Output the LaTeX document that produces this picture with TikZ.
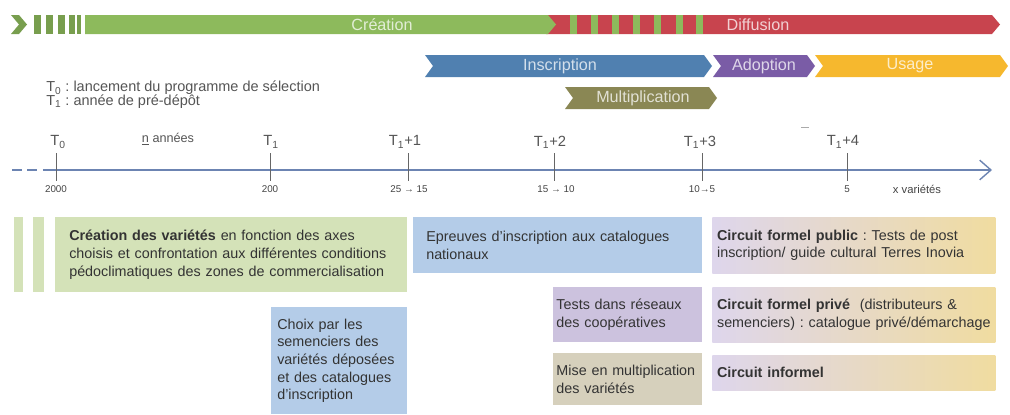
\documentclass[tikz,border=0pt]{standalone}
\usepackage{fontspec}
\setmainfont{Liberation Sans}
\usepackage{tikz}
\usepackage{xcolor}
\usetikzlibrary{
    arrows.meta,
    calc,
    positioning
}
\definecolor{creaGreen}{RGB}{141,186,92}
\definecolor{diffRed}{RGB}{200,68,78}
\definecolor{inscBlue}{RGB}{80,128,176}
\definecolor{adopPurple}{RGB}{122,92,166}
\definecolor{usageYellow}{RGB}{246,184,46}
\definecolor{multOlive}{RGB}{138,135,84}
\definecolor{axisBlue}{RGB}{108,132,178}
\definecolor{legGrey}{RGB}{85,85,85}
\definecolor{boxGreen}{RGB}{212,226,184}
\definecolor{boxBlue}{RGB}{180,204,232}
\definecolor{boxLav}{RGB}{204,194,222}
\definecolor{boxKhaki}{RGB}{214,208,188}
\definecolor{gradLav}{RGB}{222,214,236}
\definecolor{gradYel}{RGB}{240,220,160}
\newcommand{\bxfont}{\fontsize{10.2}{12.6}\selectfont}
% chevron banner: x left, x right, y top, y bottom, colour
\newcommand{\chevbar}[5]{%
  \fill[#5] (#1,#3) -- (#2-8,#3) -- (#2,{(#3+#4)/2}) -- (#2-8,#4) -- (#1,#4) -- (#1+8,{(#3+#4)/2}) -- cycle;}

\begin{document}
\frenchspacing
\begin{tikzpicture}[x=0.025cm,y=-0.025cm,
    bantext/.style={text=white,text opacity=.75,font=\fontsize{11.5}{12}\selectfont},
    leg/.style={text=legGrey,font=\fontsize{10.3}{11}\selectfont,inner sep=0pt},
    tlab/.style={text=legGrey,font=\fontsize{10.5}{12}\selectfont,inner sep=0pt},
    num/.style={text=legGrey!80!black,font=\fontsize{7}{8}\selectfont,inner sep=0pt},
    tickline/.style={legGrey!90,line width=.6pt},
    axisline/.style={axisBlue,line width=1pt},
    box/.style={anchor=north west,align=left,inner ysep=0pt,text=black!80,font=\bxfont}]
\useasboundingbox (0,0) rectangle (1010,414);

% top banners
\chevbar{546}{1000}{15}{34}{diffRed}
\foreach \sx in {570,591,612,633,654,676,696}
  \fill[creaGreen] (\sx,15) rectangle (\sx+7,34);
\chevbar{11}{27}{15}{34}{creaGreen!85!black}
\foreach \sx/\sw in {34/7,46/7,58/7,69/6,77/4}
  \fill[creaGreen!85!black] (\sx,15) rectangle (\sx+\sw,34);
\fill[creaGreen] (85,15) -- (548,15) -- (556,24.5) -- (548,34) -- (85,34) -- cycle;
\node[bantext] (crea) at (382,24.5) {Création};
\node[bantext] (diff) at (758,24.5) {Diffusion};

\chevbar{425}{712}{55}{77}{inscBlue}
\chevbar{713}{815}{55}{77}{adopPurple}
\chevbar{815}{1008}{55}{77}{usageYellow}
\chevbar{565}{717}{87}{109}{multOlive}
\node[bantext] (insc) at (560,66) {Inscription};
\node[bantext] (adop) at (764,66) {Adoption};
\node[bantext] (usag) at (910,66) {Usage};
\node[bantext] (mult) at (643,98) {Multiplication};

% legend
\node[leg,anchor=west] (legA) at (46,88) {T\textsubscript{0} : lancement du programme de sélection};
\node[leg,anchor=west] (legB) at (46,102) {T\textsubscript{1} : année de pré-dépôt};

% time axis
\coordinate (axL) at (12,170);
\coordinate (axS) at (45,170);
\coordinate (axR) at (992,170);
\draw[axisline,dashed,dash pattern=on 7pt off 4pt] (axL) -- (axS);
\draw[axisline,-{Straight Barb[length=8pt,width=14pt]}] (axS) -- (axR);
\foreach \tx/\tn in {56/t0,270/t1,408/t2,554/t3,702/t4,847/t5}{
  \coordinate (\tn top) at (\tx,153);
  \coordinate (\tn bot) at (\tx,181);
  \draw[tickline] (\tn top) -- (\tn bot);
}
\draw[legGrey!50] (801,127) -- (809,127);

\node[tlab] (lt0) at (58,142) {T\textsubscript{0}};
\node[tlab] (lt1) at (271,142) {T\textsubscript{1}};
\node[tlab] (lt2) at (405,142) {T\textsubscript{1}+1};
\node[tlab] (lt3) at (550,142) {T\textsubscript{1}+2};
\node[tlab] (lt4) at (700,142) {T\textsubscript{1}+3};
\node[tlab] (lt5) at (843,142) {T\textsubscript{1}+4};
\node[leg,font=\fontsize{9}{10}\selectfont] (nan) at (168,139) {\underline{n} années};

\node[num] (n0) at (56,189) {2000};
\node[num] (n1) at (270,189) {200};
\node[num] (n2) at (409,189) {25 → 15};
\node[num] (n3) at (556,189) {15 → 10};
\node[num] (n4) at (702,189) {10→5};
\node[num] (n5) at (847,189) {5};
\node[num,font=\fontsize{8}{9}\selectfont] (nx) at (917,189) {x variétés};

% boxes
\fill[boxGreen] (14,217) rectangle (23,292);
\fill[boxGreen] (33,217) rectangle (44,292);
\node[box,fill=boxGreen,minimum width=8.8cm,minimum height=1.875cm,text width=8.1cm,inner xsep=0.35cm] (bcrea) at (55,217)
  {\textbf{Création des variétés} en fonction des axes\\choisis et confrontation aux différentes conditions\\pédoclimatiques des zones de commercialisation};
\node[box,fill=boxBlue,minimum width=7.225cm,minimum height=1.4cm,text width=6.575cm,inner xsep=0.325cm] (bepr) at (413,217)
  {Epreuves d'inscription aux catalogues\\nationaux};
\node[box,fill=boxBlue,minimum width=3.4cm,minimum height=2.675cm,text width=3.1cm,inner xsep=0.15cm] (bchoix) at (271,307)
  {Choix par les\\semenciers des\\variétés déposées\\et des catalogues\\d'inscription};
\node[box,fill=boxLav,minimum width=3.725cm,minimum height=1.375cm,text width=3.565cm,inner xsep=0.08cm] (btest) at (553,287)
  {Tests dans réseaux\\des coopératives};
\node[box,fill=boxKhaki,minimum width=3.725cm,minimum height=1.3cm,text width=3.565cm,inner xsep=0.08cm] (bmise) at (553,353)
  {\mbox{Mise en multiplication}\\des variétés};
\node[box,left color=gradLav,right color=gradYel,minimum width=7.075cm,minimum height=1.4cm,text width=6.835cm,inner xsep=0.12cm] (bpub) at (712,217)
  {\textbf{Circuit formel public} : Tests de post\\inscription/ guide cultural Terres Inovia};
\node[box,left color=gradLav,right color=gradYel,minimum width=7.075cm,minimum height=1.375cm,text width=6.835cm,inner xsep=0.12cm] (bpriv) at (712,287)
  {\mbox{\textbf{Circuit formel privé}\ \ (distributeurs \&}\\\mbox{semenciers) : catalogue privé/démarchage}};
\node[box,left color=gradLav,right color=gradYel,minimum width=7.075cm,minimum height=0.875cm,text width=6.835cm,inner xsep=0.12cm] (binf) at (712,355)
  {\textbf{Circuit informel}};
\end{tikzpicture}
\end{document}
